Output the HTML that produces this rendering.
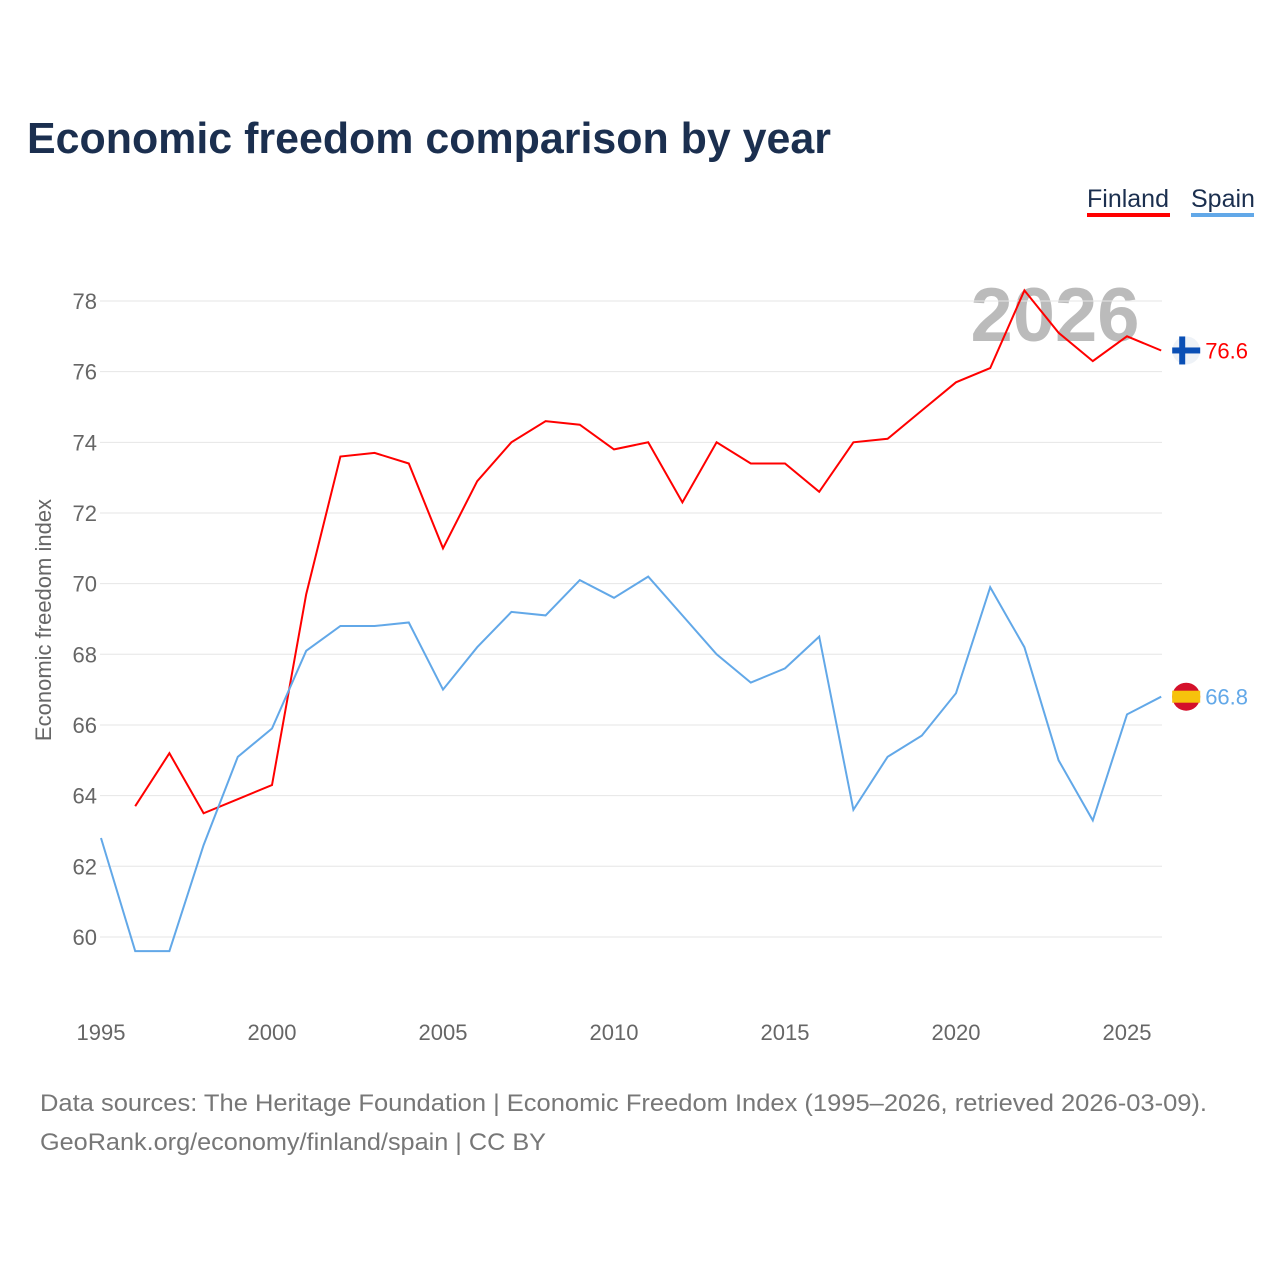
<!DOCTYPE html>
<html><head><meta charset="utf-8">
<style>
html,body{margin:0;padding:0;background:#fff;}
body{width:1280px;height:1280px;position:relative;font-family:"Liberation Sans",sans-serif;overflow:hidden;}
svg text{font-family:"Liberation Sans",sans-serif;}
</style></head>
<body>
<svg id="chart" width="1280" height="1280">
<text x="27" y="153" font-size="44" font-weight="bold" fill="#1b2f4f" textLength="804" lengthAdjust="spacingAndGlyphs">Economic freedom comparison by year</text>
<g><text x="1087" y="207" font-size="25" fill="#1b2f4f">Finland</text><rect x="1087" y="213" width="83" height="4" fill="#ff0000"/></g>
<g><text x="1191" y="207" font-size="25" fill="#1b2f4f">Spain</text><rect x="1191" y="213" width="63" height="4" fill="#62a8e8"/></g>
<text x="1055" y="341" font-size="76" font-weight="bold" fill="#bbbbbb" text-anchor="middle">2026</text>
<g id="grid"></g><g id="yt"></g><g id="xt"></g><g id="lines"></g>
<text transform="translate(51,620) rotate(-90)" font-size="22" fill="#666" text-anchor="middle">Economic freedom index</text>
<text x="40" y="1111" font-size="24" fill="#777" textLength="1167" lengthAdjust="spacingAndGlyphs">Data sources: The Heritage Foundation | Economic Freedom Index (1995–2026, retrieved 2026-03-09).</text>
<text x="40" y="1150" font-size="24" fill="#777" textLength="506" lengthAdjust="spacingAndGlyphs">GeoRank.org/economy/finland/spain | CC BY</text>
</svg>
<script>
const years=[1995,1996,1997,1998,1999,2000,2001,2002,2003,2004,2005,2006,2007,2008,2009,2010,2011,2012,2013,2014,2015,2016,2017,2018,2019,2020,2021,2022,2023,2024,2025,2026];
const finland=[null,63.7,65.2,63.5,63.9,64.3,69.7,73.6,73.7,73.4,71.0,72.9,74.0,74.6,74.5,73.8,74.0,72.3,74.0,73.4,73.4,72.6,74.0,74.1,74.9,75.7,76.1,78.3,77.1,76.3,77.0,76.6];
const spain=[62.8,59.6,59.6,62.6,65.1,65.9,68.1,68.8,68.8,68.9,67.0,68.2,69.2,69.1,70.1,69.6,70.2,69.1,68.0,67.2,67.6,68.5,63.6,65.1,65.7,66.9,69.9,68.2,65.0,63.3,66.3,66.8];
const yTicks=[60,62,64,66,68,70,72,74,76,78];
const xTicks=[1995,2000,2005,2010,2015,2020,2025];
const NS="http://www.w3.org/2000/svg";
const X=y=>101+(y-1995)*34.2;
const Y=v=>301+(78-v)*35.33;
function mk(t,a,p){const e=document.createElementNS(NS,t);for(const k in a)e.setAttribute(k,a[k]);p.appendChild(e);return e;}
const grid=document.getElementById('grid'),yt=document.getElementById('yt'),xt=document.getElementById('xt'),lines=document.getElementById('lines');
yTicks.forEach(v=>{
 const l=mk('line',{x1:100,x2:1162,y1:Y(v),y2:Y(v),stroke:'#e6e6e6','stroke-width':1},grid);
 
 
 const t=mk('text',{x:97,y:Y(v)+8,'font-size':22,fill:'#666','text-anchor':'end'},yt);t.textContent=v;
 
 
});
xTicks.forEach(v=>{
 const t=mk('text',{x:X(v),y:1040,'font-size':22,fill:'#666','text-anchor':'middle'},xt);t.textContent=v;
 
 
});
function series(vals,color,name){
 let d='';vals.forEach((v,i)=>{if(v==null)return;d+=(d?'L':'M')+X(years[i]).toFixed(1)+','+Y(v).toFixed(1);});
 const p=mk('path',{d:d,fill:'none',stroke:color,'stroke-width':2},lines);
 
 
 const last=vals[vals.length-1],lx=X(years[years.length-1]);
 const g=mk('g',{},lines);
 
 
 if(name==='finland'){
  mk('circle',{cx:lx+25,cy:Y(last),r:14,fill:'#eef2f7'},g);
  mk('rect',{x:lx+11,y:Y(last)-3,width:28,height:6,fill:'#0a4fb5'},g);
  mk('rect',{x:lx+18,y:Y(last)-14,width:6,height:28,fill:'#0a4fb5'},g);
 } else {
  mk('circle',{cx:lx+25,cy:Y(last),r:14,fill:'#d4102a'},g);
  mk('rect',{x:lx+11,y:Y(last)-6,width:28,height:12,fill:'#f6c20c'},g);
 }
 const t=mk('text',{x:lx+44,y:Y(last)+8,'font-size':22,fill:color},g);t.textContent=last.toFixed(1);
}
series(finland,'#ff0000','finland');
series(spain,'#62a8e8','spain');
</script>
</body></html>
